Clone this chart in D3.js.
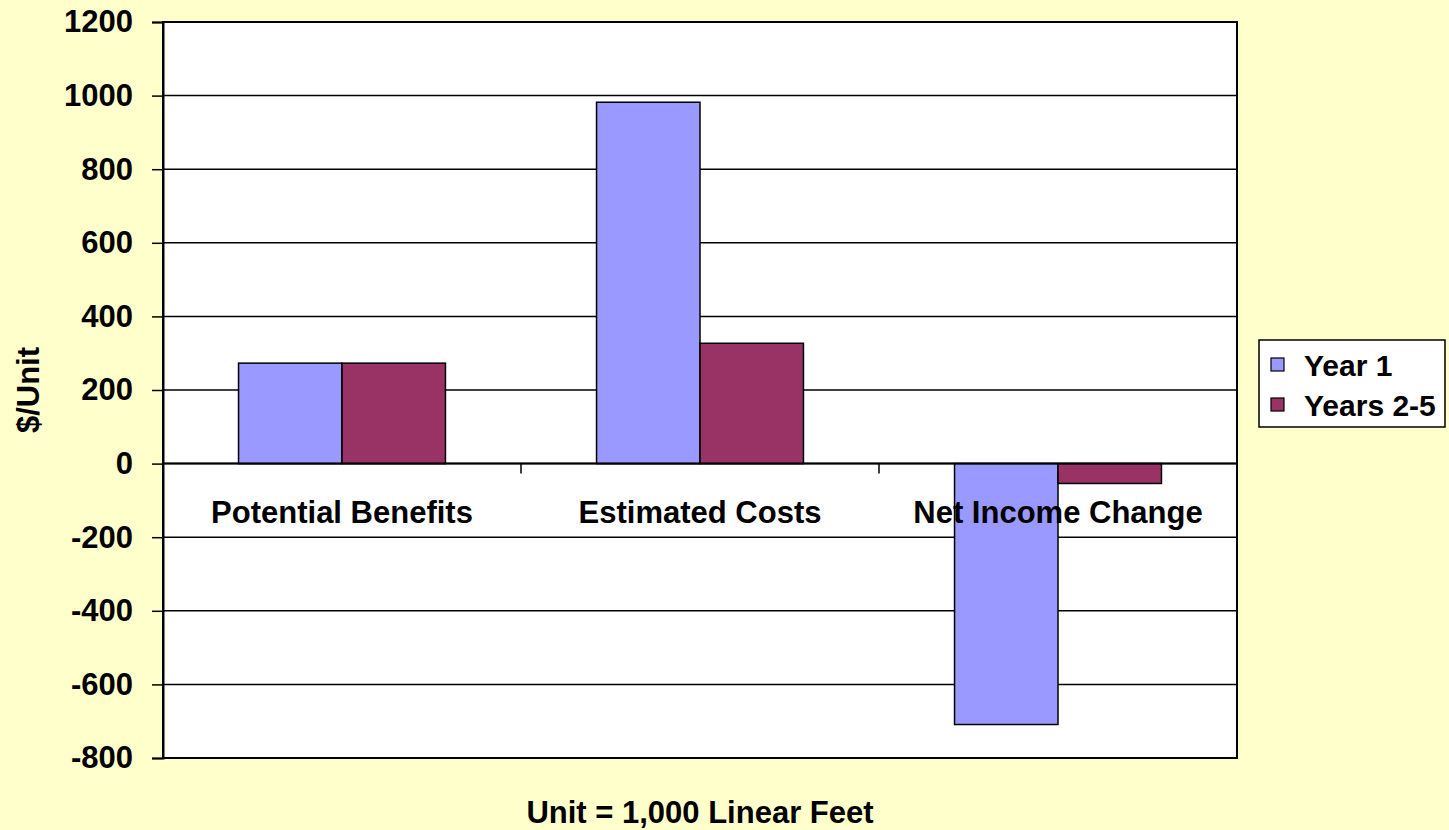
<!DOCTYPE html>
<html>
<head>
<meta charset="utf-8">
<script src="https://cdn.jsdelivr.net/npm/d3@7"></script>
<style>
  html, body { margin: 0; padding: 0; background: #FFFFCC; }
  svg { display: block; }
  text { font-family: "Liberation Sans", Arial, Helvetica, sans-serif; font-weight: bold; fill: #000; }
</style>
</head>
<body>
<svg id="chart" width="1449" height="830"></svg>
<script>
// Per-unit economics of the practice (Unit = 1,000 linear feet)
const categories = ["Potential Benefits", "Estimated Costs", "Net Income Change"];
const seriesNames = ["Year 1", "Years 2-5"];
const year1 = [273, 982, -709];
const years2to5 = [273, 327, -54];
const yTicks = [-800, -600, -400, -200, 0, 200, 400, 600, 800, 1000, 1200];
const seriesColors = ["#9999FF", "#993366"];

const svg = d3.select("#chart");
const W = 1449, H = 830;
const plot = { left: 163, right: 1237, top: 22, bottom: 758 };
const FS = 31;

svg.append("rect").attr("width", W).attr("height", H).attr("fill", "#FFFFCC");

const y = d3.scaleLinear().domain([-800, 1200]).range([plot.bottom, plot.top]);
const x0 = d3.scaleBand().domain(categories).range([plot.left, plot.right]).padding(0);
const groupFrac = 0.578;
const x1 = d3.scaleBand().domain(seriesNames)
  .range([x0.bandwidth() * (1 - groupFrac) / 2, x0.bandwidth() * (1 + groupFrac) / 2])
  .padding(0);

// plot area
svg.append("rect")
  .attr("x", plot.left).attr("y", plot.top)
  .attr("width", plot.right - plot.left).attr("height", plot.bottom - plot.top)
  .attr("fill", "#FFFFFF");

// gridlines
svg.append("g").selectAll("line").data(yTicks).join("line")
  .attr("x1", plot.left).attr("x2", plot.right)
  .attr("y1", d => y(d)).attr("y2", d => y(d))
  .attr("stroke", "#000").attr("stroke-width", 1.5);

// bars
const rows = categories.map((c, i) => ({ cat: c, vals: [year1[i], years2to5[i]] }));
const groups = svg.append("g").selectAll("g").data(rows).join("g")
  .attr("transform", d => `translate(${x0(d.cat)},0)`);
groups.selectAll("rect").data(d => d.vals.map((v, j) => ({ name: seriesNames[j], v, j })))
  .join("rect")
  .attr("x", d => x1(d.name))
  .attr("width", x1.bandwidth())
  .attr("y", d => y(Math.max(0, d.v)))
  .attr("height", d => Math.abs(y(d.v) - y(0)))
  .attr("fill", d => seriesColors[d.j])
  .attr("stroke", "#000").attr("stroke-width", 1.5);

// plot border
svg.append("rect")
  .attr("x", plot.left).attr("y", plot.top)
  .attr("width", plot.right - plot.left).attr("height", plot.bottom - plot.top)
  .attr("fill", "none").attr("stroke", "#000").attr("stroke-width", 2);

// y axis (plain hyphen for negatives)
const yAxis = d3.axisLeft(y).tickValues(yTicks).tickSize(11).tickPadding(19)
  .tickFormat(d => String(d));
const gy = svg.append("g").attr("transform", `translate(${plot.left},0)`).call(yAxis);
gy.select(".domain").attr("stroke", "#000").attr("stroke-width", 2);
gy.selectAll(".tick line").attr("stroke", "#000").attr("stroke-width", 1.5);
gy.selectAll(".tick text").attr("font-size", FS).attr("font-family", null).attr("fill", "#000");

// category axis along zero
const catBounds = [plot.left, ...categories.map(c => x0(c) + x0.bandwidth())];
svg.append("g").selectAll("line").data(catBounds.slice(1, -1)).join("line")
  .attr("x1", d => d).attr("x2", d => d)
  .attr("y1", y(0)).attr("y2", y(0) + 10)
  .attr("stroke", "#000").attr("stroke-width", 1.5);
svg.append("line").attr("x1", plot.left).attr("x2", plot.right)
  .attr("y1", y(0)).attr("y2", y(0)).attr("stroke", "#000").attr("stroke-width", 2);
svg.append("g").selectAll("text").data(categories).join("text")
  .attr("x", d => x0(d) + x0.bandwidth() / 2)
  .attr("y", y(0) + 59)
  .attr("text-anchor", "middle")
  .attr("font-size", FS)
  .text(d => d);

// axis titles
svg.append("text")
  .attr("transform", `translate(39,${(plot.top + plot.bottom) / 2}) rotate(-90)`)
  .attr("text-anchor", "middle").attr("font-size", FS)
  .text("$/Unit");
svg.append("text")
  .attr("x", (plot.left + plot.right) / 2).attr("y", 823)
  .attr("text-anchor", "middle").attr("font-size", FS)
  .text("Unit = 1,000 Linear Feet");

// legend
const legend = svg.append("g").attr("transform", "translate(1259,340)");
legend.append("rect").attr("width", 186).attr("height", 87)
  .attr("fill", "#FFFFFF").attr("stroke", "#000").attr("stroke-width", 1.5);
const items = legend.selectAll("g").data(seriesNames).join("g")
  .attr("transform", (d, i) => `translate(0,${18 + i * 40})`);
items.append("rect").attr("x", 12).attr("y", 0).attr("width", 13).attr("height", 13)
  .attr("fill", (d, i) => seriesColors[i]).attr("stroke", "#000").attr("stroke-width", 1.2);
items.append("text").attr("x", 45).attr("y", 18).attr("font-size", 30).text(d => d);
</script>
</body>
</html>
